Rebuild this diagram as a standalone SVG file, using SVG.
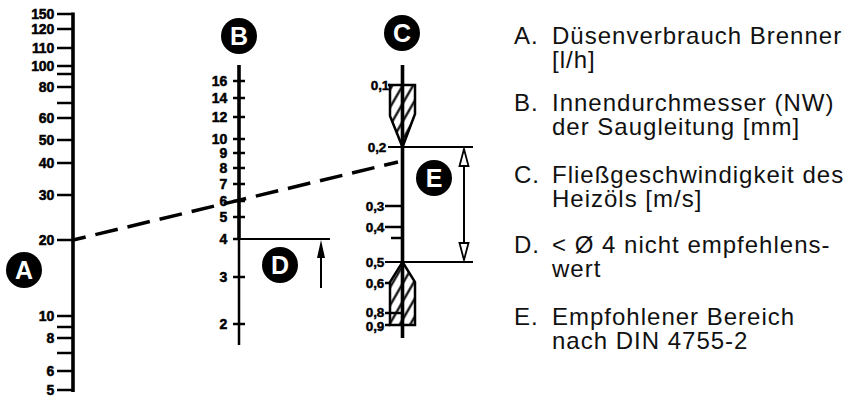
<svg xmlns="http://www.w3.org/2000/svg" width="858" height="397" viewBox="0 0 858 397">
<style>
.num{font-family:"Liberation Sans",Arial,sans-serif;font-weight:bold;font-size:14px;fill:#000;stroke:#000;stroke-width:0.5;text-anchor:end;letter-spacing:-0.2px}
.numc{font-family:"Liberation Sans",Arial,sans-serif;font-weight:bold;font-size:13.5px;fill:#000;stroke:#000;stroke-width:0.45;text-anchor:end;letter-spacing:-0.2px}
.tick{stroke:#000;stroke-width:2.5;fill:none}
.ax{stroke:#000;stroke-width:3.6;fill:none}
.thin{stroke:#000;stroke-width:2;fill:none}
.badge circle{fill:#000}
.badge text{font-family:"Liberation Sans",Arial,sans-serif;font-weight:bold;font-size:25px;fill:#fff;text-anchor:middle}
.leg{font-family:"Liberation Sans",Arial,sans-serif;font-size:24px;letter-spacing:1px;fill:#111}
</style>
<defs>
<pattern id="hatch" patternUnits="userSpaceOnUse" width="9" height="9" patternTransform="rotate(30)">
<line x1="4.5" y1="-1" x2="4.5" y2="10" stroke="#000" stroke-width="2.2"/>
</pattern>
</defs>

<g id="scaleA">
<line class="ax" x1="73" y1="12.5" x2="73" y2="392"/>
<g class="tick">
<line x1="57" y1="14" x2="73" y2="14"/>
<line x1="57" y1="29" x2="73" y2="29"/>
<line x1="57" y1="48" x2="73" y2="48"/>
<line x1="57" y1="66" x2="73" y2="66"/>
<line x1="57" y1="74" x2="73" y2="74"/>
<line x1="57" y1="87" x2="73" y2="87"/>
<line x1="57" y1="103" x2="73" y2="103"/>
<line x1="57" y1="118" x2="73" y2="118"/>
<line x1="57" y1="140" x2="73" y2="140"/>
<line x1="57" y1="163" x2="73" y2="163"/>
<line x1="57" y1="195" x2="73" y2="195"/>
<line x1="57" y1="240" x2="73" y2="240"/>
<line x1="57" y1="316" x2="73" y2="316"/>
<line x1="57" y1="327" x2="73" y2="327"/>
<line x1="57" y1="338" x2="73" y2="338"/>
<line x1="57" y1="353" x2="73" y2="353"/>
<line x1="57" y1="371" x2="73" y2="371"/>
<line x1="57" y1="390" x2="73" y2="390"/>
</g>
<text class="num" x="54" y="19">150</text>
<text class="num" x="54" y="34">120</text>
<text class="num" x="54" y="53">110</text>
<text class="num" x="54" y="71">100</text>
<text class="num" x="54" y="92">80</text>
<text class="num" x="54" y="123">60</text>
<text class="num" x="54" y="145">50</text>
<text class="num" x="54" y="168">40</text>
<text class="num" x="54" y="200">30</text>
<text class="num" x="54" y="245">20</text>
<text class="num" x="54" y="321">10</text>
<text class="num" x="54" y="343">8</text>
<text class="num" x="54" y="376">6</text>
<text class="num" x="54" y="395">5</text>
</g>

<g id="scaleB">
<line class="ax" x1="239" y1="65" x2="239" y2="240"/>
<line class="tick" x1="239" y1="239" x2="239" y2="345"/>
<g class="tick">
<line x1="233" y1="81" x2="245" y2="81"/>
<line x1="233" y1="98" x2="245" y2="98"/>
<line x1="233" y1="117" x2="245" y2="117"/>
<line x1="233" y1="139" x2="245" y2="139"/>
<line x1="233" y1="153" x2="245" y2="153"/>
<line x1="233" y1="168" x2="245" y2="168"/>
<line x1="233" y1="184" x2="245" y2="184"/>
<line x1="233" y1="201" x2="245" y2="201"/>
<line x1="233" y1="217" x2="245" y2="217"/>
<line x1="233" y1="239" x2="239" y2="239"/>
<line x1="233" y1="277" x2="245" y2="277"/>
<line x1="233" y1="324" x2="245" y2="324"/>
</g>
<text class="num" x="227" y="86">16</text>
<text class="num" x="227" y="103">14</text>
<text class="num" x="227" y="122">12</text>
<text class="num" x="227" y="144">10</text>
<text class="num" x="227" y="158">9</text>
<text class="num" x="227" y="173">8</text>
<text class="num" x="227" y="189">7</text>
<text class="num" x="227" y="206">6</text>
<text class="num" x="227" y="222">5</text>
<text class="num" x="227" y="244">4</text>
<text class="num" x="227" y="282">3</text>
<text class="num" x="227" y="329">2</text>
</g>

<g id="scaleC">
<path d="M390,85 L415,85 L415,114 L402.5,147 L390,116 Z" fill="url(#hatch)" stroke="#000" stroke-width="2.5"/>
<path d="M402.5,262 L415,282 L415,325 L390,325 L390,282 Z" fill="url(#hatch)" stroke="#000" stroke-width="2.5"/>
<line class="ax" x1="402.5" y1="65" x2="402.5" y2="338"/>
<g class="tick">
<line x1="388" y1="85" x2="390" y2="85"/>
<line x1="385" y1="206" x2="402" y2="206"/>
<line x1="385" y1="227" x2="402" y2="227"/>
<line x1="391" y1="238" x2="402" y2="238"/>
<line x1="385" y1="283" x2="391" y2="283"/>
<line x1="385" y1="313" x2="402" y2="313"/>
<line x1="385" y1="325" x2="390" y2="325"/>
</g>
<text class="numc" x="389" y="90">0,1</text>
<text class="numc" x="386" y="152">0,2</text>
<text class="numc" x="384" y="211">0,3</text>
<text class="numc" x="384" y="232">0,4</text>
<text class="numc" x="384" y="267">0,5</text>
<text class="numc" x="384" y="288">0,6</text>
<text class="numc" x="384" y="317">0,8</text>
<text class="numc" x="384" y="331">0,9</text>
</g>

<g id="rangeE">
<line class="thin" x1="388" y1="147" x2="473" y2="147"/>
<line class="thin" x1="385" y1="262" x2="473" y2="262"/>
<line class="thin" x1="464" y1="160" x2="464" y2="250"/>
<path d="M464,149 L459.5,166 L468.5,166 Z" fill="#fff" stroke="#000" stroke-width="1.8"/>
<path d="M464,260 L459.5,243 L468.5,243 Z" fill="#fff" stroke="#000" stroke-width="1.8"/>
</g>

<g id="limitD">
<line class="thin" x1="239" y1="239" x2="330" y2="239"/>
<line class="thin" x1="321" y1="288" x2="321" y2="255"/>
<path d="M321,240 L317,258 L325,258 Z" fill="#000"/>
</g>

<g id="connectors">
<line x1="73" y1="240" x2="398" y2="162" stroke="#000" stroke-width="3.5" stroke-dasharray="23 10" stroke-dashoffset="10"/>
</g>

<g id="badgeA" class="badge"><circle cx="24" cy="270" r="18"/><text x="24" y="279">A</text></g>
<g id="badgeB" class="badge"><circle cx="239" cy="36" r="18"/><text x="239" y="45">B</text></g>
<g id="badgeC" class="badge"><circle cx="402" cy="33" r="18"/><text x="402" y="42">C</text></g>
<g id="badgeD" class="badge"><circle cx="280" cy="265" r="18"/><text x="280" y="274">D</text></g>
<g id="badgeE" class="badge"><circle cx="434" cy="178" r="18"/><text x="434" y="187">E</text></g>

<g id="legend">
<text class="leg" x="514" y="44">A.</text>
<text class="leg" x="552" y="44">Düsenverbrauch Brenner</text>
<text class="leg" x="552" y="68">[l/h]</text>
<text class="leg" x="514" y="111">B.</text>
<text class="leg" x="552" y="111">Innendurchmesser (NW)</text>
<text class="leg" x="552" y="135">der Saugleitung [mm]</text>
<text class="leg" x="514" y="183">C.</text>
<text class="leg" x="552" y="183">Fließgeschwindigkeit des</text>
<text class="leg" x="552" y="207">Heizöls [m/s]</text>
<text class="leg" x="514" y="253">D.</text>
<text class="leg" x="552" y="253">&lt; Ø 4 nicht empfehlens-</text>
<text class="leg" x="552" y="277">wert</text>
<text class="leg" x="514" y="325">E.</text>
<text class="leg" x="552" y="325">Empfohlener Bereich</text>
<text class="leg" x="552" y="349">nach DIN 4755-2</text>
</g>
</svg>
